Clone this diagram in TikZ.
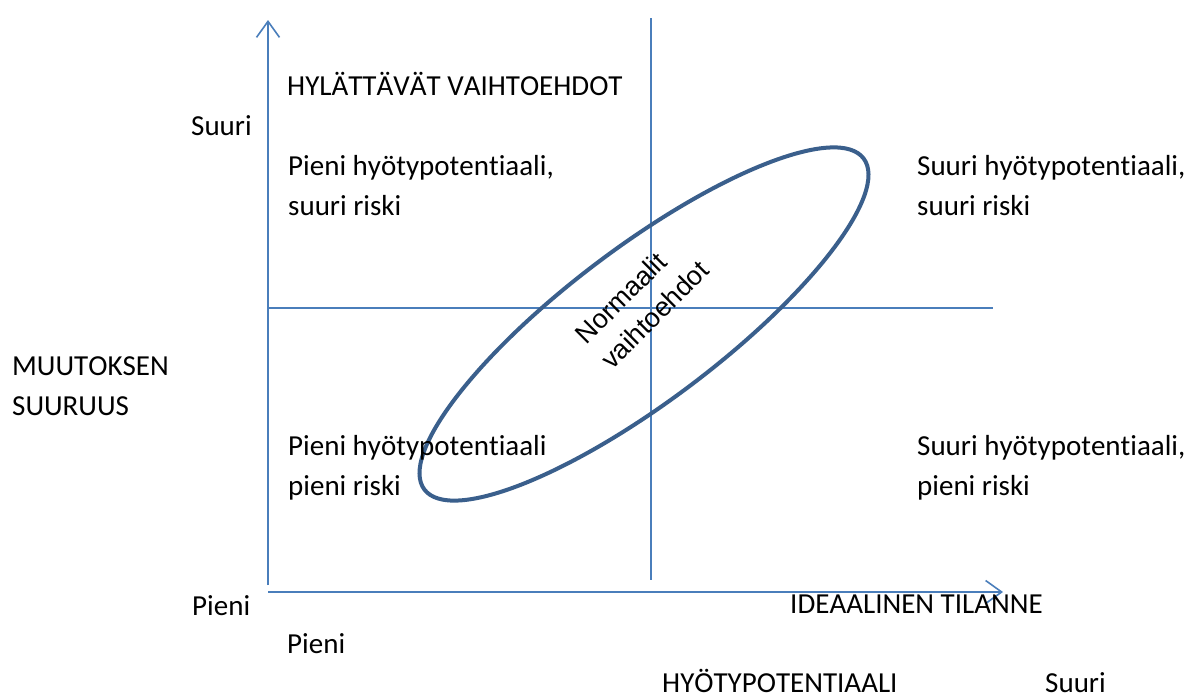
\documentclass[tikz,border=0pt]{standalone}
\usepackage{fontspec}
\setmainfont{Carlito}[Kerning=Off,Ligatures=NoCommon]
\newfontfamily\normfont{Liberation Sans}
\usetikzlibrary{arrows.meta,shapes.geometric}

\definecolor{axisblue}{HTML}{4A7EBB}
\definecolor{ovalblue}{HTML}{3A5F8C}

\tikzset{
  axis/.style={axisblue, line width=1.6pt},
  axisarrow/.style={axis, -{Straight Barb[length=16pt,width=23pt,line width=1.6pt]}},
  lbl/.style={anchor=base west, inner sep=0pt, align=left,
    font=\fontsize{29}{40}\selectfont},
}

\begin{document}
\begin{tikzpicture}[x=1pt,y=-1pt]
\useasboundingbox[fill=white] (0,0) rectangle (1191,697);

% axes and quadrant lines
\coordinate (origin) at (268,592);
\coordinate (ytop) at (268,20);
\coordinate (ybot) at (268,585);
\coordinate (xend) at (1003,592);
\coordinate (midtop) at (651,18);
\coordinate (midbot) at (651,580);
\coordinate (midleft) at (268,308);
\coordinate (midright) at (993,308);

\draw[axisarrow] (ybot) -- (ytop);
\draw[axisarrow] (origin) -- (xend);
\draw[axis] (midtop) -- (midbot);
\draw[axis] (midleft) -- (midright);

% normal alternatives
\node[draw=ovalblue, line width=4pt, ellipse, minimum width=550pt,
  minimum height=154pt, rotate=37] (normal) at (644,324) {};
\node[rotate=45, align=left, inner sep=0pt,
  font=\normfont\fontsize{27}{36}\selectfont] (normaltext) at (642,302)
  {Normaalit\\vaihtoehdot};

% quadrant texts (anchored at the last line)
\node[lbl] (reject) at (287,95) {HYLÄTTÄVÄT VAIHTOEHDOT};
\node[lbl] (tl) at (288,215) {Pieni hyötypotentiaali,\\suuri riski};
\node[lbl] (tr) at (917,215) {Suuri hyötypotentiaali,\\suuri riski};
\node[lbl] (bl) at (288,495) {Pieni hyötypotentiaali\\pieni riski};
\node[lbl] (br) at (917,495) {Suuri hyötypotentiaali,\\pieni riski};
\node[lbl] (ideal) at (790,613) {IDEAALINEN TILANNE};

% axis labels
\node[lbl] (ybig) at (191,135) {Suuri};
\node[lbl] (ytitle) at (12,415) {MUUTOKSEN\\SUURUUS};
\node[lbl] (ysmall) at (192,615) {Pieni};
\node[lbl] (xsmall) at (287,653) {Pieni};
\node[lbl, text depth=0pt] (xtitle) at (662,692) {HYÖTYPOTENTIAALI};
\node[lbl, text depth=0pt] (xbig) at (1045,692) {Suuri};
\end{tikzpicture}
\end{document}
